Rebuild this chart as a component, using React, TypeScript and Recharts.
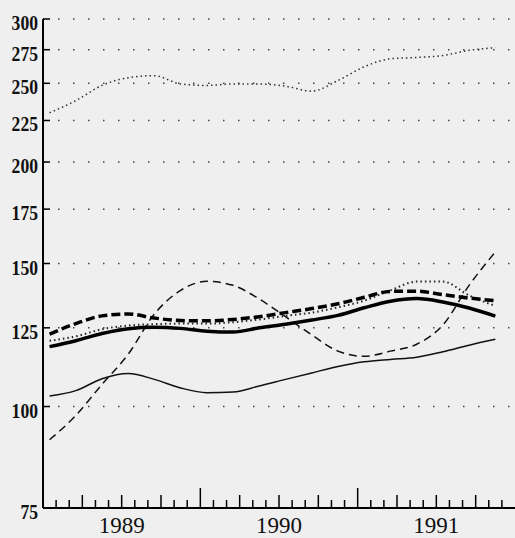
import { LineChart, Line, XAxis, YAxis, CartesianGrid } from 'recharts'

// months since Jan 1989
const months = [0.5, 2.5, 4.5, 6.5, 8.5, 10.5, 12.5, 14.5, 16.5, 18.5, 20.5, 22.5, 24.5, 26.5, 28.5, 30.5, 32.5, 34.5]

const topDotted = [230, 238, 248.5, 254, 255.5, 249.5, 248.5, 249.5, 249.5, 248, 244.5, 252, 262, 268, 269, 270.5, 274.5, 276.5]
const thickSolid = [118.5, 120.5, 123, 124.7, 125.2, 124.8, 123.8, 123.5, 125, 126.3, 127.8, 129.5, 132.3, 134.8, 135.8, 134.5, 132.2, 129.2]
const thickDashed = [122.8, 126.5, 129.3, 130, 128.5, 127.6, 127.5, 128, 129, 130.5, 132, 133.8, 136.3, 138.6, 138.7, 137.3, 136, 135]
const midDotted = [120.5, 122, 124.5, 125.8, 126.3, 126.5, 126.5, 127, 128, 129.3, 130.5, 132.5, 135, 139, 142.5, 142.5, 137, 133]
const longDashed = [91, 97.5, 106.5, 116, 130, 139, 142.6, 141, 135.6, 129, 122.5, 117, 115.3, 117, 119.3, 126, 141, 155]
const thinSolid = [103, 104.6, 108.2, 109.8, 108, 105.4, 104, 104.2, 106, 108, 110, 112, 113.5, 114.3, 115, 116.8, 119, 121]

const yTicks = [75, 100, 125, 150, 175, 200, 225, 250, 275, 300]
const monthTicks = [1, 2, 3, 4, 5, 6, 7, 8, 9, 10, 11, 12, 13, 14, 15, 16, 17, 18, 19, 20, 21, 22, 23, 24, 25, 26, 27, 28, 29, 30, 31, 32, 33, 34, 35]
const yearLabels: Record<number, string> = { 6: '1989', 18: '1990', 30: '1991' }

const data = months.map((m, i) => ({
  m,
  a: topDotted[i],
  b: thickSolid[i],
  c: thickDashed[i],
  d: midDotted[i],
  e: longDashed[i],
  f: thinSolid[i],
}))

const FONT = '"Liberation Serif", serif'

function YTick(props: any) {
  const { x, y, payload } = props
  const label = String(payload.value)
  return (
    <g>
      <line x1={x} x2={x + 7} y1={y} y2={y} stroke="#000" strokeWidth={1.5} />
      <text
        x={x - 5}
        y={y + 11}
        textAnchor="end"
        fontFamily={FONT}
        fontSize={20}
        fontWeight="bold"
        fill="#111"
        textLength={label.length * 8.8}
        lengthAdjust="spacingAndGlyphs"
      >
        {label}
      </text>
    </g>
  )
}

function XTick(props: any) {
  const { x, y, payload } = props
  const v = payload.value as number
  const len = v % 12 === 0 ? 20 : v % 3 === 0 ? 13 : 8
  const label = yearLabels[v]
  return (
    <g>
      <line x1={x} x2={x} y1={y} y2={y - len} stroke="#000" strokeWidth={1.5} />
      {label && (
        <text x={x} y={y + 25} textAnchor="middle" fontFamily={FONT} fontSize={23} fill="#111">
          {label}
        </text>
      )}
    </g>
  )
}

export default function App() {
  return (
    <div style={{ position: 'absolute', left: 0, top: 0, width: 515, height: 538, background: '#efefef' }}>
      <LineChart width={515} height={538} data={data} margin={{ top: 19, right: 0, bottom: 0, left: 0 }}>
        <CartesianGrid vertical={false} stroke="#444" strokeWidth={1.5} strokeDasharray="1.5 13.5" />
        <XAxis
          dataKey="m"
          type="number"
          domain={[0, 36]}
          ticks={monthTicks}
          interval={0}
          height={30}
          tickSize={0}
          tickMargin={0}
          tickLine={false}
          tick={<XTick />}
          axisLine={{ stroke: '#000', strokeWidth: 2 }}
        />
        <YAxis
          type="number"
          scale="log"
          domain={[75, 300]}
          ticks={yTicks}
          interval={0}
          allowDataOverflow
          width={43}
          tickSize={0}
          tickMargin={0}
          tickLine={false}
          tick={<YTick />}
          axisLine={{ stroke: '#000', strokeWidth: 2 }}
        />
        <Line type="monotone" dataKey="a" stroke="#333" strokeWidth={1.5} strokeDasharray="1.5 3" dot={false} isAnimationActive={false} />
        <Line type="monotone" dataKey="f" stroke="#111" strokeWidth={1.5} dot={false} isAnimationActive={false} />
        <Line type="monotone" dataKey="e" stroke="#111" strokeWidth={1.5} strokeDasharray="8 5" dot={false} isAnimationActive={false} />
        <Line type="monotone" dataKey="d" stroke="#222" strokeWidth={2} strokeDasharray="1.5 3" dot={false} isAnimationActive={false} />
        <Line type="monotone" dataKey="c" stroke="#000" strokeWidth={3.5} strokeDasharray="9 4" dot={false} isAnimationActive={false} />
        <Line type="monotone" dataKey="b" stroke="#000" strokeWidth={3.5} dot={false} isAnimationActive={false} />
      </LineChart>
    </div>
  )
}
